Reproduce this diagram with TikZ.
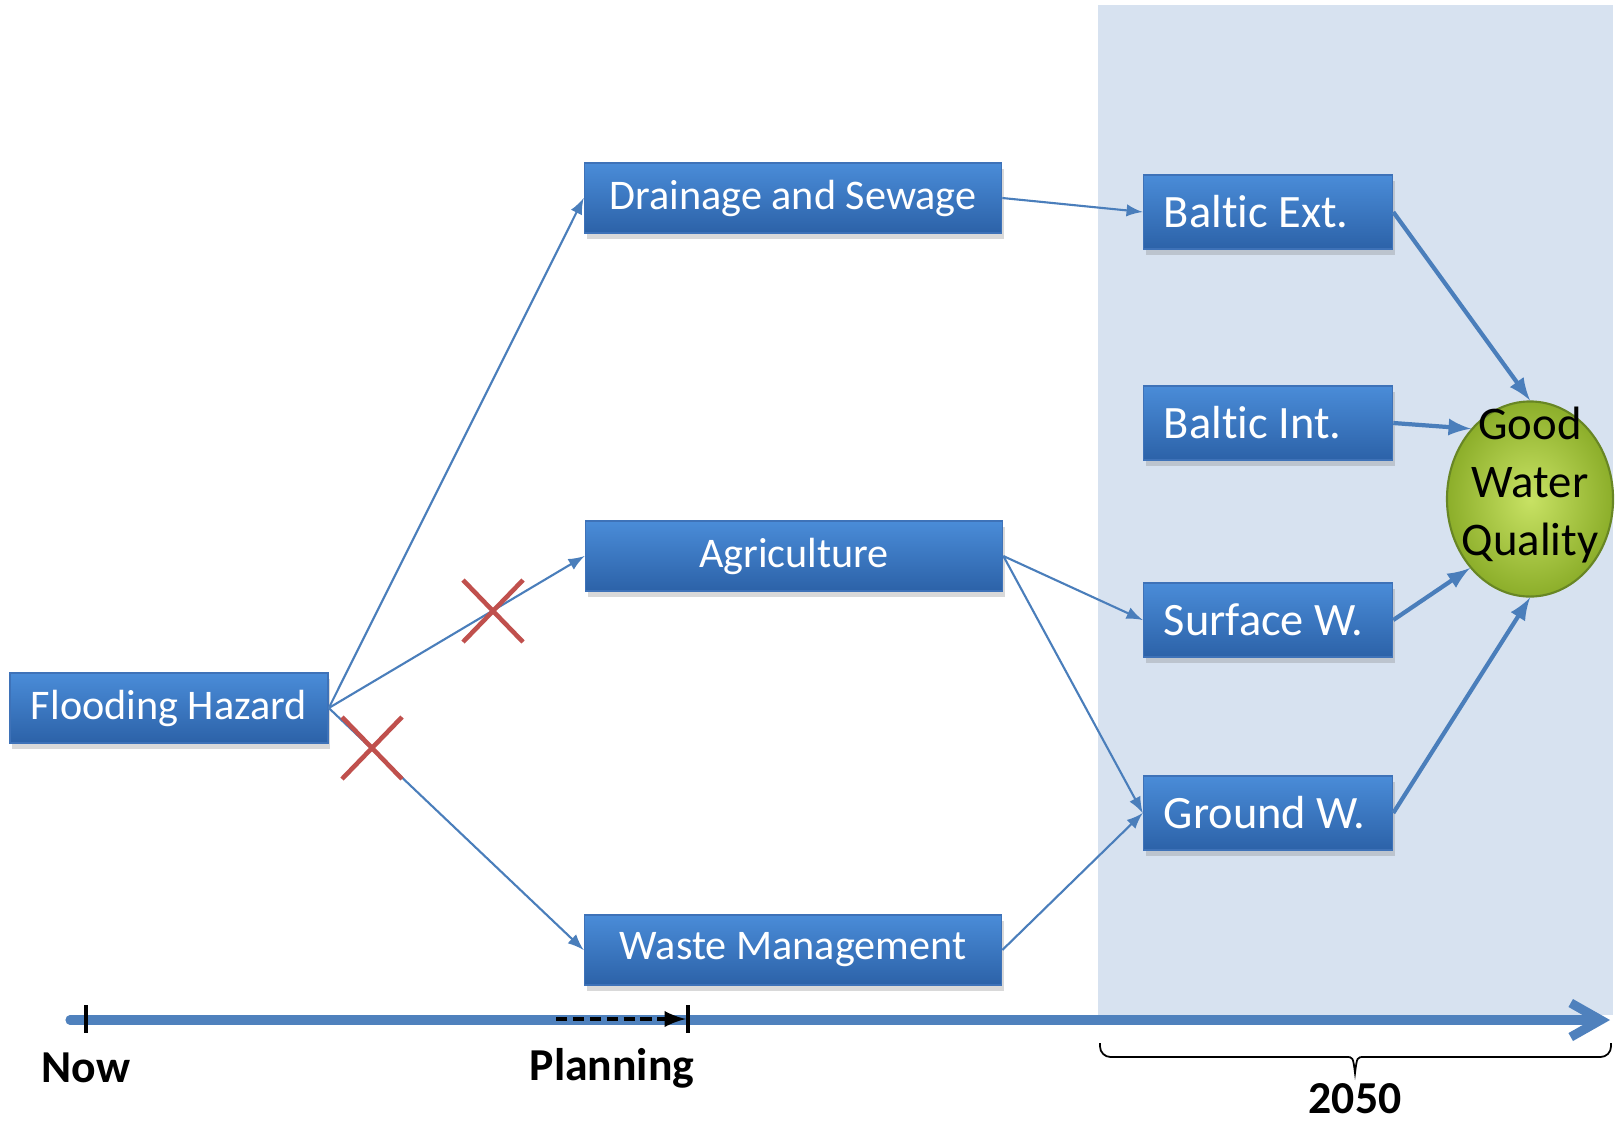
\documentclass[tikz,border=0pt]{standalone}
\usepackage{fontspec}
\setmainfont{Carlito}[Ligatures=NoCommon]
\usepackage{tikz}
\usetikzlibrary{arrows,arrows.meta,shadows,shapes.geometric}
\definecolor{bgblue}{RGB}{215,226,240}
\definecolor{boxtop}{RGB}{74,140,216}
\definecolor{boxbot}{RGB}{44,98,168}
\definecolor{boxedge}{RGB}{62,114,184}
\definecolor{linkblue}{RGB}{74,126,187}
\definecolor{axisblue}{RGB}{79,129,189}
\definecolor{crossred}{RGB}{192,80,77}
\definecolor{ballin}{RGB}{200,226,100}
\definecolor{ballout}{RGB}{140,174,42}
\definecolor{balledge}{RGB}{104,134,36}

\begin{document}
\begin{tikzpicture}[x=0.01cm,y=-0.01cm,
	box/.style={draw=boxedge,line width=0.4pt,top color=boxtop,bottom color=boxbot,text=white,inner sep=0pt,drop shadow={shadow xshift=0.6pt,shadow yshift=-1.6pt,opacity=0.3}},
	sector/.style={box,minimum width=4.17cm,minimum height=0.70cm,font=\fontsize{12}{14}\selectfont},
	hazard/.style={box,minimum width=3.18cm,minimum height=0.70cm,font=\fontsize{12}{14}\selectfont},
	target/.style={box,minimum width=2.49cm,minimum height=0.74cm,text width=2.08cm,align=flush left,inner xsep=0.205cm,font=\fontsize{13.2}{15}\selectfont},
	goal/.style={ellipse,draw=balledge,line width=0.6pt,inner color=ballin,outer color=ballout,minimum width=1.66cm,minimum height=1.95cm,inner sep=0pt},
	link/.style={draw=linkblue,line width=0.6pt,-latex},
	feed/.style={draw=linkblue,line width=1.2pt,-latex},
	cross/.style={draw=crossred,line width=1.3pt},
	timeline/.style={draw=axisblue,line width=2.6pt,line cap=round,-{Straight Barb[length=3mm,width=3.4mm]}},
	tick/.style={draw=black,line width=1.1pt},
	when/.style={font=\fontsize{13}{15}\selectfont\bfseries}]
	\useasboundingbox (0,0) rectangle (1616,1121);
	\fill[bgblue] (1098,5) rectangle (1613,1015);

	\coordinate (t0) at (70,1020);
	\coordinate (t1) at (1610,1020);
	\draw[timeline] (t0) -- (t1);
	\foreach \x in {86,688}
	\draw[tick] (\x,1005) -- (\x,1033);
	\coordinate (p0) at (556,1019);
	\coordinate (p1) at (686,1019);
	\draw[black,line width=1.1pt,dash pattern=on 3.2pt off 1.6pt,-latex] (p0) -- (p1);
	\node[when] (now) at (86,1068) {Now};
	\node[when] (plan) at (612,1068) {Planning};
	\draw[line width=0.5pt,rounded corners=3pt] (1100,1043) -- (1100,1057) -- (1346,1057);
	\draw[line width=0.5pt,rounded corners=3pt] (1364,1057) -- (1611,1057) -- (1611,1043);
	\draw[line width=0.5pt] (1346,1057) .. controls (1353,1057) .. (1355,1073) .. controls (1357,1057) .. (1364,1057);
	\node[when] (year) at (1355,1099) {2050};

	\node[hazard] (flood) at (169,708) {Flooding Hazard};
	\node[sector] (drain) at (793,198) {Drainage and Sewage};
	\node[sector] (agri) at (794,556) {Agriculture};
	\node[sector] (waste) at (793,950) {Waste Management};
	\node[target] (bext) at (1268,212) {Baltic Ext.};
	\node[target] (bint) at (1268,423) {Baltic Int.};
	\node[target] (surf) at (1268,620) {Surface W.};
	\node[target] (ground) at (1268,813) {Ground W.};
	\node[goal] (good) at (1530,499) {};
	\node[font=\fontsize{13.3}{16.4}\selectfont,align=center] (goodtext) at (1530,485) {Good\\Water\\Quality};

	\draw[link] (flood.east) -- (drain.west);
	\draw[link] (flood.east) -- (agri.west);
	\draw[link] (flood.east) -- (waste.west);
	\draw[link] (drain.east) -- (bext.west);
	\draw[link] (agri.east) -- (surf.west);
	\draw[link] (agri.east) -- (ground.west);
	\draw[link] (waste.east) -- (ground.west);

	\draw[feed] (bext.east) -- (good.north);
	\draw[feed] (bint.east) -- (good.130);
	\draw[feed] (surf.east) -- (good.229);
	\draw[feed] (ground.east) -- (good.south);

	\foreach \cx/\cy in {493/611,372/748}
	\draw[cross] (\cx-30,\cy-31) -- (\cx+30,\cy+31) (\cx-30,\cy+31) -- (\cx+30,\cy-31);
\end{tikzpicture}
\end{document}
